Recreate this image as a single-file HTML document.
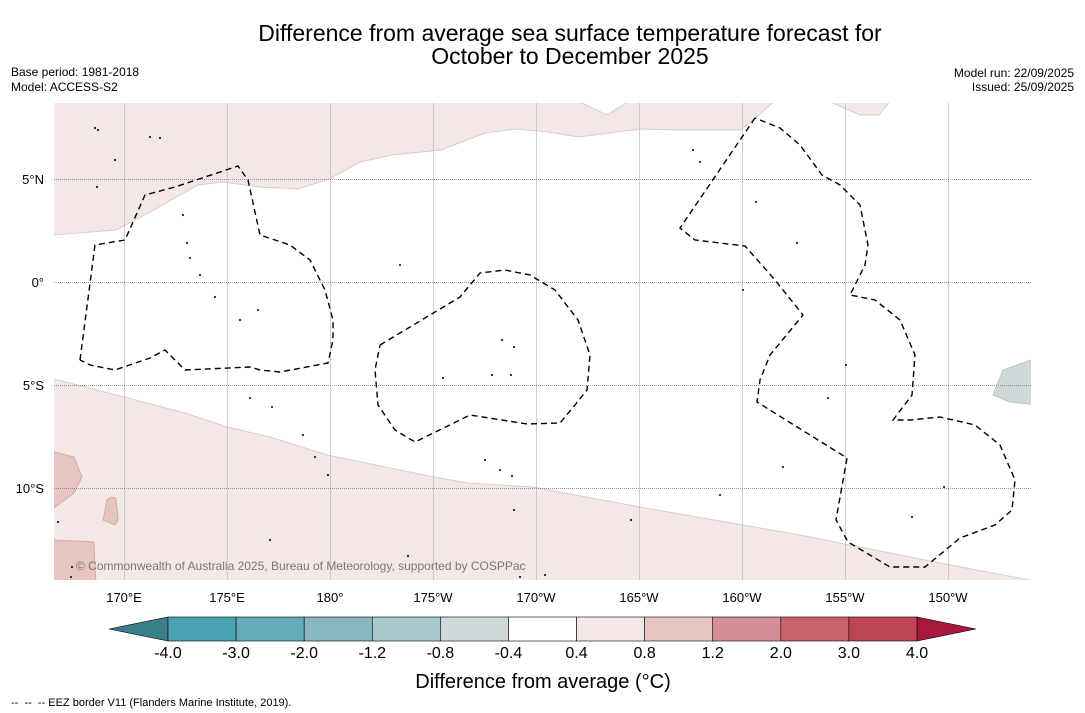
<!DOCTYPE html>
<html><head><meta charset="utf-8"><style>
body{margin:0;background:#fff;}
svg{display:block;font-family:"Liberation Sans",sans-serif;}
</style></head><body>
<svg id="chart" width="1085" height="713" viewBox="0 0 1085 713">
<text x="570" y="41" font-size="23" text-anchor="middle">Difference from average sea surface temperature forecast for</text>
<text x="570" y="64" font-size="23" text-anchor="middle">October to December 2025</text>
<text x="11" y="76" font-size="12">Base period: 1981-2018</text>
<text x="11" y="91" font-size="12">Model: ACCESS-S2</text>
<text x="1074" y="77" font-size="12" text-anchor="end">Model run: 22/09/2025</text>
<text x="1074" y="91" font-size="12" text-anchor="end">Issued: 25/09/2025</text>
<defs><clipPath id="mapclip"><rect x="54" y="103" width="977" height="477"/></clipPath></defs>
<g id="map" clip-path="url(#mapclip)"></g>
<g id="ticks"></g>
<g id="cbar"></g>
<text x="543" y="688" font-size="20" text-anchor="middle">Difference from average (°C)</text>
<text x="11" y="706" font-size="11">-- &#160;-- &#160;-- EEZ border V11 (Flanders Marine Institute, 2019).</text>
</svg>
<script>
const lonTicks=[170,175,180,185,190,195,200,205,210];
const lonLabels=["170°E","175°E","180°","175°W","170°W","165°W","160°W","155°W","150°W"];
const latTicks=[5,0,-5,-10];
const latLabels=["5°N","0°","5°S","10°S"];
const levels=["-4.0","-3.0","-2.0","-1.2","-0.8","-0.4","0.4","0.8","1.2","2.0","3.0","4.0"];
const levelColors=["#4aa1b1","#66abbb","#88b6c2","#a9c8cc","#cfd9d9","#ffffff","#f4e8e6","#e6c5c0","#d48f96","#c8636d","#bd4655"];
const extendColors=["#3b7f88","#a8183b"];
const X=lon=>124+(lon-170)*20.6;
const Y=lat=>282-lat*20.6;
const px=(x)=>170+(x-124)/20.6, py=(y)=>(282-y)/20.6;
function P(a){const r=[];for(let i=0;i<a.length;i+=2)r.push([px(a[i]),py(a[i+1])]);return r;}
const warmNorth=P([40,90,40,236,116,230,148,213,198,185,223,182,260,187,298,189,329,179,360,162,392,155,441,150,485,133,516,129,548,132,579,137,616,132,641,129,679,130,741,130,782,95,826,95,826,100,860,115,879,115,895,95,40,95]);
const notch=P([572,95,576,100,607,115,626,103,630,95]);
const warmSouth=P([40,375,54,379,124,397,185,413,227,427,270,437,327,455,434,477,468,483,533,487,640,507,800,535,900,555,950,565,1040,582,1040,600,40,600]);
const patch1=P([40,450,54,452,74,457,82,477,74,493,54,508,40,515]);
const patch2=P([107,500,111,497,116,498,118,520,115,525,103,520]);
const patch3=P([40,540,54,540,94,542,96,585,40,585]);
const coolPatch=P([993,395,1003,370,1031,360,1040,360,1040,405,1010,402]);
const eezA=P([80,360,95,245,125,240,145,195,175,187,238,166,248,180,260,235,290,245,310,260,325,290,333,320,333,340,328,363,280,372,260,370,250,367,185,370,165,350,150,358,115,370,90,365,80,360]);
const eezB=P([380,345,460,297,480,273,505,270,530,275,555,290,578,320,590,355,587,390,575,405,560,423,527,424,470,415,415,442,395,430,378,405,375,370,380,345]);
const eezC=P([755,118,680,228,695,240,745,246,775,280,803,315,770,355,760,380,757,402,847,458,836,520,848,542,890,567,925,567,960,538,995,525,1012,510,1015,480,1000,445,975,425,940,417,910,420,893,420,912,395,915,355,900,320,875,300,850,295,865,265,868,245,860,205,840,185,822,175,800,145,780,128,755,118]);
const islands=P([95,128,98,130,150,137,160,138,115,160,97,187,183,215,187,243,190,258,200,275,215,297,240,320,258,310,250,398,272,407,303,435,315,457,328,475,400,265,443,378,492,375,511,375,485,460,500,470,512,476,514,510,502,340,514,347,631,520,720,495,783,467,797,243,756,202,743,290,828,398,846,365,944,487,912,517,270,540,408,556,58,522,72,567,71,577,520,577,545,575,693,150,700,162]);
const NS="http://www.w3.org/2000/svg";
function mk(t,attrs,parent){const e=document.createElementNS(NS,t);for(const k in attrs)e.setAttribute(k,attrs[k]);parent.appendChild(e);return e;}
function pts(a){return a.map(p=>X(p[0]).toFixed(1)+","+Y(p[1]).toFixed(1)).join(" ");}
const mapG=document.getElementById("map");
let el0;
el0=mk("polygon",{points:pts(warmNorth),fill:"#f4e8e6",stroke:"#dccbcb","stroke-width":1},mapG);


el0=mk("polygon",{points:pts(notch),fill:"#fff",stroke:"#dccbcb","stroke-width":1},mapG);


el0=mk("polygon",{points:pts(warmSouth),fill:"#f4e8e6",stroke:"#dccbcb","stroke-width":1},mapG);


[patch1,patch2,patch3].forEach((p,i)=>{
 const el=mk("polygon",{points:pts(p),fill:"#e6c5c0",stroke:"#d4aaa6","stroke-width":1},mapG);
 
 
});
el0=mk("polygon",{points:pts(coolPatch),fill:"#cfd9d9",stroke:"#b9c6c6","stroke-width":1},mapG);


lonTicks.forEach(l=>{const g=mk("line",{x1:X(l)+0.5,x2:X(l)+0.5,y1:103,y2:580,stroke:"#b0b0b0","stroke-width":0.6},mapG);
 
 });
latTicks.forEach(l=>{const g=mk("line",{x1:54,x2:1031,y1:Y(l)+0.5,y2:Y(l)+0.5,stroke:"#777","stroke-width":0.7,"stroke-dasharray":"1,1"},mapG);
 
 });
islands.forEach(p=>{const d=mk("circle",{cx:X(p[0]),cy:Y(p[1]),r:1.1,fill:"#222"},mapG);
 
 });
[eezA,eezB,eezC].forEach((p,i)=>{
 const el=mk("polyline",{points:pts(p),fill:"none",stroke:"#000","stroke-width":1.4,"stroke-dasharray":"6,4"},mapG);
 
 
});
const cr=mk("text",{x:76,y:570,"font-size":12,fill:"#777"},mapG);
cr.textContent="© Commonwealth of Australia 2025, Bureau of Meteorology, supported by COSPPac";


const tickG=document.getElementById("ticks");
lonTicks.forEach((l,i)=>{const t=mk("text",{x:X(l),y:602,"font-size":13,"text-anchor":"middle"},tickG);t.textContent=lonLabels[i];
 
 });
latTicks.forEach((l,i)=>{const t=mk("text",{x:44,y:Y(l)+5,"font-size":13,"text-anchor":"end"},tickG);t.textContent=latLabels[i];
 
 });
const cb=document.getElementById("cbar");
const cx0=168,cx1=917,cTop=617,cBot=641,cw=(cx1-cx0)/levelColors.length;
let tl=mk("polygon",{points:`109,629 ${cx0},${cTop} ${cx0},${cBot}`,fill:extendColors[0],stroke:"#000","stroke-width":0.6},cb);


tl=mk("polygon",{points:`976,629 ${cx1},${cTop} ${cx1},${cBot}`,fill:extendColors[1],stroke:"#000","stroke-width":0.6},cb);


levelColors.forEach((c,i)=>{const r=mk("rect",{x:cx0+i*cw,y:cTop,width:cw,height:cBot-cTop,fill:c,stroke:"#000","stroke-width":0.6},cb);
 
 });
levels.forEach((v,i)=>{const t=mk("text",{x:cx0+i*cw,y:658,"font-size":16,"text-anchor":"middle"},cb);t.textContent=v;
 
 });
</script>
</body></html>
